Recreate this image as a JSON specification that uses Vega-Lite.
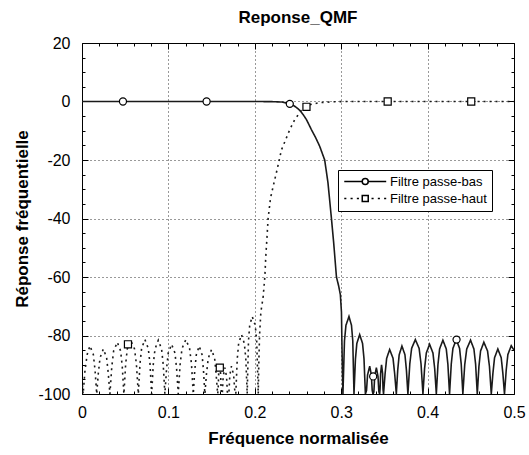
{
"$schema": "https://vega.github.io/schema/vega-lite/v6.json",
"width": 432, "height": 351,
"autosize": "none",
"padding": {"left": 82, "top": 43, "right": 15, "bottom": 61},
"background": "white",
"title": {"text": "Reponse_QMF", "font": "Liberation Sans", "fontSize": 17, "fontWeight": "bold", "color": "black", "baseline": "alphabetic", "offset": -5, "anchor": "middle", "frame": "group"},
"config": {"view": {"stroke": "black", "strokeWidth": 1}},
"resolve": {"axis": {"x": "independent", "y": "independent"}, "scale": {"shape": "independent"}},
"datasets": {
"curves": [
{"f":0,"db":0,"s":"bas"},{"f":0.1,"db":0,"s":"bas"},{"f":0.2,"db":0,"s":"bas"},{"f":0.22,"db":-0.05,"s":"bas"},{"f":0.232,"db":-0.2,"s":"bas"},{"f":0.2424,"db":-0.9,"s":"bas"},{"f":0.248,"db":-2,"s":"bas"},{"f":0.252,"db":-3,"s":"bas"},{"f":0.2558,"db":-4.4,"s":"bas"},{"f":0.2598,"db":-6.2,"s":"bas"},{"f":0.2655,"db":-9.6,"s":"bas"},{"f":0.2705,"db":-12.4,"s":"bas"},{"f":0.2751,"db":-15.3,"s":"bas"},{"f":0.2809,"db":-20,"s":"bas"},{"f":0.2847,"db":-27.8,"s":"bas"},{"f":0.2887,"db":-40,"s":"bas"},{"f":0.2913,"db":-48.3,"s":"bas"},{"f":0.2945,"db":-60,"s":"bas"},{"f":0.297,"db":-63,"s":"bas"},{"f":0.299,"db":-66,"s":"bas"},{"f":0.3003,"db":-72,"s":"bas"},{"f":0.3008,"db":-82,"s":"bas"},{"f":0.3014,"db":-92,"s":"bas"},{"f":0.302,"db":-100,"s":"bas"},
{"f":0.3038,"db":-81.8,"s":"bas"},{"f":0.3055,"db":-76.5,"s":"bas"},{"f":0.309,"db":-73.5,"s":"bas"},{"f":0.3119,"db":-76.5,"s":"bas"},{"f":0.3134,"db":-81.8,"s":"bas"},{"f":0.3148,"db":-100,"s":"bas"},
{"f":0.3165,"db":-88,"s":"bas"},{"f":0.3181,"db":-82.7,"s":"bas"},{"f":0.3214,"db":-79.7,"s":"bas"},{"f":0.3247,"db":-82.7,"s":"bas"},{"f":0.3264,"db":-88,"s":"bas"},{"f":0.328,"db":-100,"s":"bas"},
{"f":0.3293,"db":-98.8,"s":"bas"},{"f":0.3305,"db":-93.5,"s":"bas"},{"f":0.333,"db":-90.5,"s":"bas"},{"f":0.3349,"db":-93.5,"s":"bas"},{"f":0.3359,"db":-98.8,"s":"bas"},{"f":0.3368,"db":-100,"s":"bas"},
{"f":0.3378,"db":-99.3,"s":"bas"},{"f":0.3388,"db":-94,"s":"bas"},{"f":0.3407,"db":-91,"s":"bas"},{"f":0.3426,"db":-94,"s":"bas"},{"f":0.3436,"db":-99.3,"s":"bas"},{"f":0.3445,"db":-100,"s":"bas"},
{"f":0.345,"db":-98.3,"s":"bas"},{"f":0.3456,"db":-93,"s":"bas"},{"f":0.3467,"db":-90,"s":"bas"},{"f":0.3479,"db":-93,"s":"bas"},{"f":0.3484,"db":-98.3,"s":"bas"},{"f":0.349,"db":-100,"s":"bas"},
{"f":0.3508,"db":-93.1,"s":"bas"},{"f":0.3526,"db":-87.8,"s":"bas"},{"f":0.3561,"db":-84.8,"s":"bas"},{"f":0.36,"db":-87.8,"s":"bas"},{"f":0.3619,"db":-93.1,"s":"bas"},{"f":0.3638,"db":-100,"s":"bas"},
{"f":0.3654,"db":-91.9,"s":"bas"},{"f":0.3671,"db":-86.6,"s":"bas"},{"f":0.3703,"db":-83.6,"s":"bas"},{"f":0.3738,"db":-86.6,"s":"bas"},{"f":0.3755,"db":-91.9,"s":"bas"},{"f":0.3772,"db":-100,"s":"bas"},
{"f":0.3794,"db":-89.7,"s":"bas"},{"f":0.3815,"db":-84.4,"s":"bas"},{"f":0.3858,"db":-81.4,"s":"bas"},{"f":0.3902,"db":-84.4,"s":"bas"},{"f":0.3924,"db":-89.7,"s":"bas"},{"f":0.3946,"db":-100,"s":"bas"},
{"f":0.3965,"db":-91.3,"s":"bas"},{"f":0.3985,"db":-86,"s":"bas"},{"f":0.4023,"db":-83,"s":"bas"},{"f":0.4062,"db":-86,"s":"bas"},{"f":0.4082,"db":-91.3,"s":"bas"},{"f":0.4101,"db":-100,"s":"bas"},
{"f":0.412,"db":-89.9,"s":"bas"},{"f":0.4139,"db":-84.6,"s":"bas"},{"f":0.4177,"db":-81.6,"s":"bas"},{"f":0.4216,"db":-84.6,"s":"bas"},{"f":0.4235,"db":-89.9,"s":"bas"},{"f":0.4254,"db":-100,"s":"bas"},
{"f":0.4274,"db":-89.7,"s":"bas"},{"f":0.4293,"db":-84.4,"s":"bas"},{"f":0.4332,"db":-81.4,"s":"bas"},{"f":0.437,"db":-84.4,"s":"bas"},{"f":0.4389,"db":-89.7,"s":"bas"},{"f":0.4408,"db":-100,"s":"bas"},
{"f":0.443,"db":-89.9,"s":"bas"},{"f":0.4453,"db":-84.6,"s":"bas"},{"f":0.4497,"db":-81.6,"s":"bas"},{"f":0.4536,"db":-84.6,"s":"bas"},{"f":0.4556,"db":-89.9,"s":"bas"},{"f":0.4575,"db":-100,"s":"bas"},
{"f":0.4594,"db":-90.6,"s":"bas"},{"f":0.4613,"db":-85.3,"s":"bas"},{"f":0.4651,"db":-82.3,"s":"bas"},{"f":0.4694,"db":-85.3,"s":"bas"},{"f":0.4716,"db":-90.6,"s":"bas"},{"f":0.4737,"db":-100,"s":"bas"},
{"f":0.4756,"db":-92.9,"s":"bas"},{"f":0.4775,"db":-87.6,"s":"bas"},{"f":0.4813,"db":-84.6,"s":"bas"},{"f":0.4852,"db":-87.6,"s":"bas"},{"f":0.4871,"db":-92.9,"s":"bas"},{"f":0.489,"db":-100,"s":"bas"},
{"f":0.491,"db":-91.8,"s":"bas"},{"f":0.4929,"db":-86.5,"s":"bas"},{"f":0.4968,"db":-83.5,"s":"bas"},{"f":0.5,"db":-85,"s":"bas"},
{"f":0,"db":-95,"s":"haut"},{"f":0.0013,"db":-100,"s":"haut"},{"f":0.0035,"db":-91.8,"s":"haut"},{"f":0.006,"db":-86.5,"s":"haut"},{"f":0.0092,"db":-83.5,"s":"haut"},{"f":0.0131,"db":-86.5,"s":"haut"},{"f":0.0151,"db":-91.8,"s":"haut"},{"f":0.017,"db":-100,"s":"haut"},
{"f":0.0189,"db":-92.9,"s":"haut"},{"f":0.0209,"db":-87.6,"s":"haut"},{"f":0.0247,"db":-84.6,"s":"haut"},{"f":0.0285,"db":-87.6,"s":"haut"},{"f":0.0304,"db":-92.9,"s":"haut"},{"f":0.0323,"db":-100,"s":"haut"},
{"f":0.0345,"db":-90.6,"s":"haut"},{"f":0.0366,"db":-85.3,"s":"haut"},{"f":0.0409,"db":-82.3,"s":"haut"},{"f":0.0447,"db":-85.3,"s":"haut"},{"f":0.0466,"db":-90.6,"s":"haut"},{"f":0.0485,"db":-100,"s":"haut"},
{"f":0.0505,"db":-89.9,"s":"haut"},{"f":0.0524,"db":-84.6,"s":"haut"},{"f":0.0563,"db":-81.6,"s":"haut"},{"f":0.0608,"db":-84.6,"s":"haut"},{"f":0.063,"db":-89.9,"s":"haut"},{"f":0.0652,"db":-100,"s":"haut"},
{"f":0.0671,"db":-89.7,"s":"haut"},{"f":0.069,"db":-84.4,"s":"haut"},{"f":0.0728,"db":-81.4,"s":"haut"},{"f":0.0767,"db":-84.4,"s":"haut"},{"f":0.0787,"db":-89.7,"s":"haut"},{"f":0.0806,"db":-100,"s":"haut"},
{"f":0.0825,"db":-89.9,"s":"haut"},{"f":0.0845,"db":-84.6,"s":"haut"},{"f":0.0883,"db":-81.6,"s":"haut"},{"f":0.0921,"db":-84.6,"s":"haut"},{"f":0.094,"db":-89.9,"s":"haut"},{"f":0.0959,"db":-100,"s":"haut"},
{"f":0.0979,"db":-91.3,"s":"haut"},{"f":0.0998,"db":-86,"s":"haut"},{"f":0.1037,"db":-83,"s":"haut"},{"f":0.1076,"db":-86,"s":"haut"},{"f":0.1095,"db":-91.3,"s":"haut"},{"f":0.1114,"db":-100,"s":"haut"},
{"f":0.1136,"db":-89.7,"s":"haut"},{"f":0.1158,"db":-84.4,"s":"haut"},{"f":0.1202,"db":-81.4,"s":"haut"},{"f":0.1245,"db":-84.4,"s":"haut"},{"f":0.1267,"db":-89.7,"s":"haut"},{"f":0.1288,"db":-100,"s":"haut"},
{"f":0.1305,"db":-91.9,"s":"haut"},{"f":0.1323,"db":-86.6,"s":"haut"},{"f":0.1357,"db":-83.6,"s":"haut"},{"f":0.139,"db":-86.6,"s":"haut"},{"f":0.1406,"db":-91.9,"s":"haut"},{"f":0.1422,"db":-100,"s":"haut"},
{"f":0.1441,"db":-93.1,"s":"haut"},{"f":0.1461,"db":-87.8,"s":"haut"},{"f":0.1499,"db":-84.8,"s":"haut"},{"f":0.1535,"db":-87.8,"s":"haut"},{"f":0.1552,"db":-93.1,"s":"haut"},{"f":0.157,"db":-100,"s":"haut"},
{"f":0.1576,"db":-98.3,"s":"haut"},{"f":0.1582,"db":-93,"s":"haut"},{"f":0.1593,"db":-90,"s":"haut"},{"f":0.1604,"db":-93,"s":"haut"},{"f":0.161,"db":-98.3,"s":"haut"},{"f":0.1615,"db":-100,"s":"haut"},
{"f":0.1625,"db":-99.3,"s":"haut"},{"f":0.1634,"db":-94,"s":"haut"},{"f":0.1653,"db":-91,"s":"haut"},{"f":0.1673,"db":-94,"s":"haut"},{"f":0.1682,"db":-99.3,"s":"haut"},{"f":0.1692,"db":-100,"s":"haut"},
{"f":0.1702,"db":-98.8,"s":"haut"},{"f":0.1711,"db":-93.5,"s":"haut"},{"f":0.173,"db":-90.5,"s":"haut"},{"f":0.1755,"db":-93.5,"s":"haut"},{"f":0.1768,"db":-98.8,"s":"haut"},{"f":0.178,"db":-100,"s":"haut"},
{"f":0.1797,"db":-88,"s":"haut"},{"f":0.1813,"db":-82.7,"s":"haut"},{"f":0.1846,"db":-79.7,"s":"haut"},{"f":0.1879,"db":-82.7,"s":"haut"},{"f":0.1896,"db":-88,"s":"haut"},{"f":0.1912,"db":-100,"s":"haut"},
{"f":0.1927,"db":-81.8,"s":"haut"},{"f":0.1941,"db":-76.5,"s":"haut"},{"f":0.197,"db":-73.5,"s":"haut"},{"f":0.2005,"db":-76.5,"s":"haut"},{"f":0.2022,"db":-81.8,"s":"haut"},{"f":0.204,"db":-100,"s":"haut"},
{"f":0.2046,"db":-90,"s":"haut"},{"f":0.2055,"db":-80,"s":"haut"},{"f":0.207,"db":-72,"s":"haut"},{"f":0.2096,"db":-67,"s":"haut"},{"f":0.2116,"db":-60,"s":"haut"},{"f":0.2127,"db":-53,"s":"haut"},{"f":0.2142,"db":-46,"s":"haut"},{"f":0.2154,"db":-40,"s":"haut"},{"f":0.2182,"db":-33,"s":"haut"},{"f":0.2205,"db":-30,"s":"haut"},{"f":0.2231,"db":-26.7,"s":"haut"},{"f":0.2258,"db":-23.3,"s":"haut"},{"f":0.2309,"db":-16.5,"s":"haut"},{"f":0.2358,"db":-13,"s":"haut"},{"f":0.2405,"db":-9.6,"s":"haut"},{"f":0.2462,"db":-6.2,"s":"haut"},{"f":0.254,"db":-3,"s":"haut"},{"f":0.2636,"db":-1.1,"s":"haut"},{"f":0.275,"db":-0.4,"s":"haut"},{"f":0.29,"db":-0.1,"s":"haut"},{"f":0.31,"db":0,"s":"haut"},{"f":0.4,"db":0,"s":"haut"},{"f":0.5,"db":0,"s":"haut"}
],
"markers": [
{"f":0.0474,"db":0,"s":"bas"},{"f":0.1442,"db":0,"s":"bas"},{"f":0.2405,"db":-0.8,"s":"bas"},{"f":0.337,"db":-94,"s":"bas"},{"f":0.4335,"db":-81.4,"s":"bas"},
{"f":0.0532,"db":-83,"s":"haut"},{"f":0.1595,"db":-91,"s":"haut"},{"f":0.2598,"db":-1.8,"s":"haut"},{"f":0.3538,"db":0,"s":"haut"},{"f":0.4505,"db":0,"s":"haut"}
]
},
"layer": [
{
"data": {"name": "curves"},
"mark": {"type": "line", "color": "#1a1a1a", "strokeWidth": 1.6, "clip": true},
"encoding": {
"x": {"field": "f", "type": "quantitative", "scale": {"domain": [0, 0.5], "nice": false, "zero": false},
 "axis": {"orient": "bottom", "values": [0,0.02,0.04,0.06,0.08,0.1,0.12,0.14,0.16,0.18,0.2,0.22,0.24,0.26,0.28,0.3,0.32,0.34,0.36,0.38,0.4,0.42,0.44,0.46,0.48,0.5],
  "labelExpr": "abs(datum.value*10 - round(datum.value*10)) < 0.001 ? (datum.value == 0 ? '0' : format(datum.value, '.1f')) : ''",
  "grid": true, "gridColor": "#333333", "gridDash": [1, 3], "gridWidth": 1,
  "gridOpacity": {"condition": {"test": "abs(datum.value*10 - round(datum.value*10)) < 0.001 && datum.value > 0.001 && datum.value < 0.499", "value": 1}, "value": 0},
  "tickColor": "black", "tickSize": {"condition": {"test": "abs(datum.value*10 - round(datum.value*10)) < 0.001", "value": -6}, "value": -3},
  "domain": false, "labelFont": "Liberation Sans", "labelFontSize": 16, "labelColor": "black", "labelPadding": 16, "labelFlush": false,
  "title": "Fréquence normalisée", "titleFont": "Liberation Sans", "titleFontSize": 17, "titleFontWeight": "bold", "titleColor": "black", "titlePadding": 10}},
"y": {"field": "db", "type": "quantitative", "scale": {"domain": [-100, 20], "nice": false, "zero": false},
 "axis": {"orient": "left", "values": [-100,-95,-90,-85,-80,-75,-70,-65,-60,-55,-50,-45,-40,-35,-30,-25,-20,-15,-10,-5,0,5,10,15,20],
  "labelExpr": "datum.value % 20 == 0 ? '' + datum.value : ''",
  "grid": true, "gridColor": "#333333", "gridDash": [1, 3], "gridWidth": 1,
  "gridOpacity": {"condition": {"test": "datum.value % 20 == 0 && datum.value > -99 && datum.value < 19", "value": 1}, "value": 0},
  "tickColor": "black", "tickSize": {"condition": {"test": "datum.value % 20 == 0", "value": -6}, "value": -3},
  "domain": false, "labelFont": "Liberation Sans", "labelFontSize": 16, "labelColor": "black", "labelPadding": 18, "labelFlush": false,
  "title": "Réponse fréquentielle", "titleFont": "Liberation Sans", "titleFontSize": 17, "titleFontWeight": "bold", "titleColor": "black", "titlePadding": 6}},
"strokeDash": {"field": "s", "type": "nominal", "scale": {"domain": ["bas", "haut"], "range": [[1, 0], [2, 4]]}, "legend": null}
}
},
{
"data": {"name": "markers"},
"mark": {"type": "point", "filled": true, "fill": "white", "stroke": "black", "strokeWidth": 1.2, "size": 50, "opacity": 1},
"encoding": {
"x": {"field": "f", "type": "quantitative", "scale": {"domain": [0, 0.5], "nice": false, "zero": false},
 "axis": {"orient": "top", "values": [0,0.02,0.04,0.06,0.08,0.1,0.12,0.14,0.16,0.18,0.2,0.22,0.24,0.26,0.28,0.3,0.32,0.34,0.36,0.38,0.4,0.42,0.44,0.46,0.48,0.5],
  "labels": false, "grid": false, "domain": false, "title": null, "tickColor": "black",
  "tickSize": {"condition": {"test": "abs(datum.value*10 - round(datum.value*10)) < 0.001", "value": -6}, "value": -3}}},
"y": {"field": "db", "type": "quantitative", "scale": {"domain": [-100, 20], "nice": false, "zero": false},
 "axis": {"orient": "right", "values": [-100,-95,-90,-85,-80,-75,-70,-65,-60,-55,-50,-45,-40,-35,-30,-25,-20,-15,-10,-5,0,5,10,15,20],
  "labels": false, "grid": false, "domain": false, "title": null, "tickColor": "black",
  "tickSize": {"condition": {"test": "datum.value % 20 == 0", "value": -6}, "value": -3}}},
"shape": {"field": "s", "type": "nominal", "scale": {"domain": ["bas", "haut"], "range": ["circle", "square"]}, "legend": null}
}
},
{
"data": {"name": "markers"},
"transform": [{"filter": "datum.f < 0.1"}],
"mark": {"type": "point", "filled": false, "color": "black", "strokeWidth": 1.5, "clip": true},
"encoding": {
"x": {"field": "f", "type": "quantitative", "axis": null},
"y": {"datum": -300, "type": "quantitative", "axis": null},
"shape": {"field": "s", "type": "nominal",
 "scale": {"domain": ["bas", "haut"], "range": ["M-1,0H2.43M3.57,0H7M2.43,0A0.57,0.57 0 1,1 3.57,0A0.57,0.57 0 1,1 2.43,0Z", "M-1,0H-0.6M0.2,0H0.6M1.4,0H1.8M2.43,-0.57H3.57V0.57H2.43ZM4.2,0H4.6M5.4,0H5.8M6.6,0H7"]},
 "legend": {"orient": "none", "legendX": 256, "legendY": 127, "title": null,
  "labelExpr": "'Filtre passe-' + datum.label", "labelFont": "Liberation Sans", "labelFontSize": 13, "labelColor": "black", "labelOffset": 34,
  "fillColor": "white", "strokeColor": "black", "padding": 5, "rowPadding": 3,
  "symbolSize": 110, "symbolStrokeWidth": 1.5, "symbolStrokeColor": "black", "symbolFillColor": "white", "symbolOpacity": 1}}
}
}
]
}
